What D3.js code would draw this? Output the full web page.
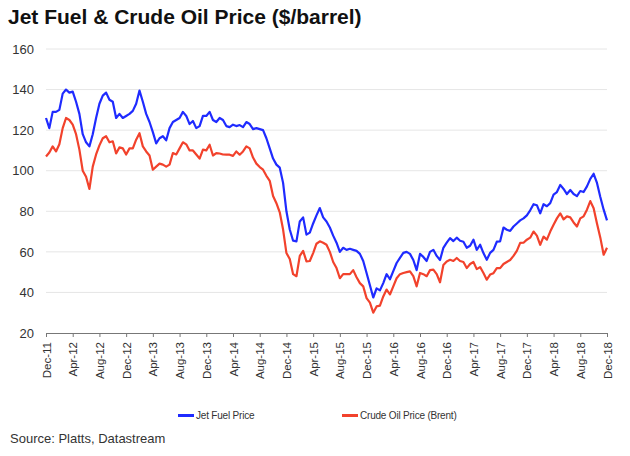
<!DOCTYPE html>
<html>
<head>
<meta charset="utf-8">
<script src="https://cdn.jsdelivr.net/npm/d3@7"></script>
<style>
  html, body { margin: 0; padding: 0; background: #fff; }
  svg { display: block; font-family: "Liberation Sans", Arial, Helvetica, sans-serif; }
</style>
</head>
<body>
<svg id="chart" width="630" height="456"></svg>
<script>
// Half-month observations, Dec-2011 .. Dec-2018 (index i = month offset i/2 from Dec-11)
const jetFuel = [
  126,121,129,129,130,138,140,138.5,139,134,
  128,118,114,112,118,126,133,137,138.5,135,
  134,126,128,126,127,128,129.5,133,139.5,134,
  128,124,119,113.5,116,117,115,121,124,125,
  126,129,127,123,124.5,121,122,127,127,129,
  125,124,126,125,122,121.5,122.7,122,122.5,121.5,
  124,123,120.5,121,120.5,120,116,111,106,103,
  101.5,94,80,71,65.5,65.2,75,77,68.5,69.5,
  74,78,81.6,77,75,72,68,64.5,60,62,
  61,61.5,61,60.5,59,55.5,49.6,43.5,37.5,42,
  41,44.6,49,46.5,50.5,54.5,57,59.5,60,59,
  56,51,59,57.5,55.5,60,61,58,56,62,
  64.5,66.8,65.3,67,65.5,65,62,63,66,61,
  63.5,59.4,56.1,59.5,61,65,65.2,72,70.9,70.3,
  72.5,74,75.5,76.5,78,80.5,83.5,83,79,83.5,
  82.5,84,88.2,89.5,93,91,88.5,90.5,88.5,87.5,
  90,89.5,92.3,96,98.5,94,87,80.8,75.5
];
const brent = [
  107,109,112,109.5,113,121,126,125,122.7,118,
  110.4,100,97,91,102,108,112.5,116,117,114,
  114.5,108.5,111.5,111,108,111,111,115.3,118.5,112,
  109.5,107.5,100.5,102,103.5,103,102,103,108.7,108,
  111,114,113,110,110,108,106,110.4,110,112.8,
  107.5,108.7,108.5,108,107.9,107.9,107.3,109.5,107.9,109.5,
  112,111,106.5,103.5,101.8,100.5,97.5,95,87.5,84,
  79.5,71,59.4,56.5,49,48,58,60.5,55.3,55.5,
  59.4,64,65.2,64.5,63.5,60,55,52,47,49,
  49,49,51,47.5,44.6,43,37.2,35,30,33.1,
  33.5,38,41.4,39,43,47,49,49.6,50,50.4,
  48,43,49.6,49,48,51,51.2,49,45,53.5,
  55.3,56.1,55.5,57,55.5,55,52,54,55,51.5,
  52.5,49.6,46.3,48.8,49.5,52,52,54,55,56,
  58,60.5,64.4,64.5,66,67,70,68,63.5,67.5,
  66,70,73.4,76.5,79,76,77.5,77,74.5,72.5,
  76.5,77.5,80.8,85,81.5,74,67,58.6,62
];
const xTickLabels = ["Dec-11","Apr-12","Aug-12","Dec-12","Apr-13","Aug-13","Dec-13","Apr-14","Aug-14","Dec-14","Apr-15","Aug-15","Dec-15","Apr-16","Aug-16","Dec-16","Apr-17","Aug-17","Dec-17","Apr-18","Aug-18","Dec-18"];
const yTicks = [20,40,60,80,100,120,140,160];
const seriesNames = ["Jet Fuel Price","Crude Oil Price (Brent)"];
const seriesColors = ["#1f2bff","#f2422c"];
const titleText = "Jet Fuel & Crude Oil Price ($/barrel)";
const sourceText = "Source: Platts, Datastream";

const svg = d3.select("#chart");
const x = d3.scaleLinear().domain([0, 84]).range([46, 607]);
const y = d3.scaleLinear().domain([20, 160]).range([333, 49]);

// title
svg.append("text").attr("x", 8).attr("y", 24)
  .attr("font-size", 21).attr("font-weight", "bold").attr("fill", "#111")
  .text(titleText);

// gridlines
svg.append("g").selectAll("line").data(yTicks.filter(d => d > 20)).join("line")
  .attr("x1", x(0)).attr("x2", x(84))
  .attr("y1", d => y(d)).attr("y2", d => y(d))
  .attr("stroke", "#e6e6e6").attr("stroke-width", 1);

// y axis labels
const yAxis = d3.axisLeft(y).tickValues(yTicks).tickSize(0).tickPadding(12);
const gy = svg.append("g").attr("transform", `translate(${x(0)},0)`).call(yAxis);
gy.select(".domain").remove();
gy.selectAll("text").attr("font-size", 13).attr("fill", "#333")
  .attr("font-family", "'Liberation Sans', Arial, sans-serif");

// x axis
const tickPos = xTickLabels.map((d, i) => i * 4);
const xAxis = d3.axisBottom(x).tickValues(tickPos).tickSize(4)
  .tickFormat((d, i) => xTickLabels[i]);
const gx = svg.append("g").attr("transform", `translate(0,${y(20)})`).call(xAxis);
gx.select(".domain").attr("stroke", "#777");
gx.selectAll(".tick line").attr("stroke", "#777");
gx.selectAll("text")
  .attr("font-size", 11.5).attr("fill", "#333")
  .attr("font-family", "'Liberation Sans', Arial, sans-serif")
  .attr("transform", "rotate(-90)")
  .attr("text-anchor", "end")
  .attr("x", -9).attr("y", 0).attr("dy", "0.35em");

// lines
const line = d3.line().x((d, i) => x(i / 2)).y(d => y(d)).curve(d3.curveLinear);
[jetFuel, brent].forEach((s, k) => {
  svg.append("path").datum(s).attr("d", line)
    .attr("fill", "none").attr("stroke", seriesColors[k])
    .attr("stroke-width", 2.2).attr("stroke-linejoin", "round");
});

// legend
const legendX = [178, 342];
seriesNames.forEach((n, k) => {
  svg.append("line").attr("x1", legendX[k]).attr("x2", legendX[k] + 16)
    .attr("y1", 415.5).attr("y2", 415.5)
    .attr("stroke", seriesColors[k]).attr("stroke-width", 3);
  svg.append("text").attr("x", legendX[k] + 18).attr("y", 419)
    .attr("font-size", 10).attr("fill", "#333").attr("letter-spacing", -0.2)
    .text(n);
});

// source
svg.append("text").attr("x", 10).attr("y", 443)
  .attr("font-size", 13).attr("fill", "#333")
  .text(sourceText);
</script>
</body>
</html>
